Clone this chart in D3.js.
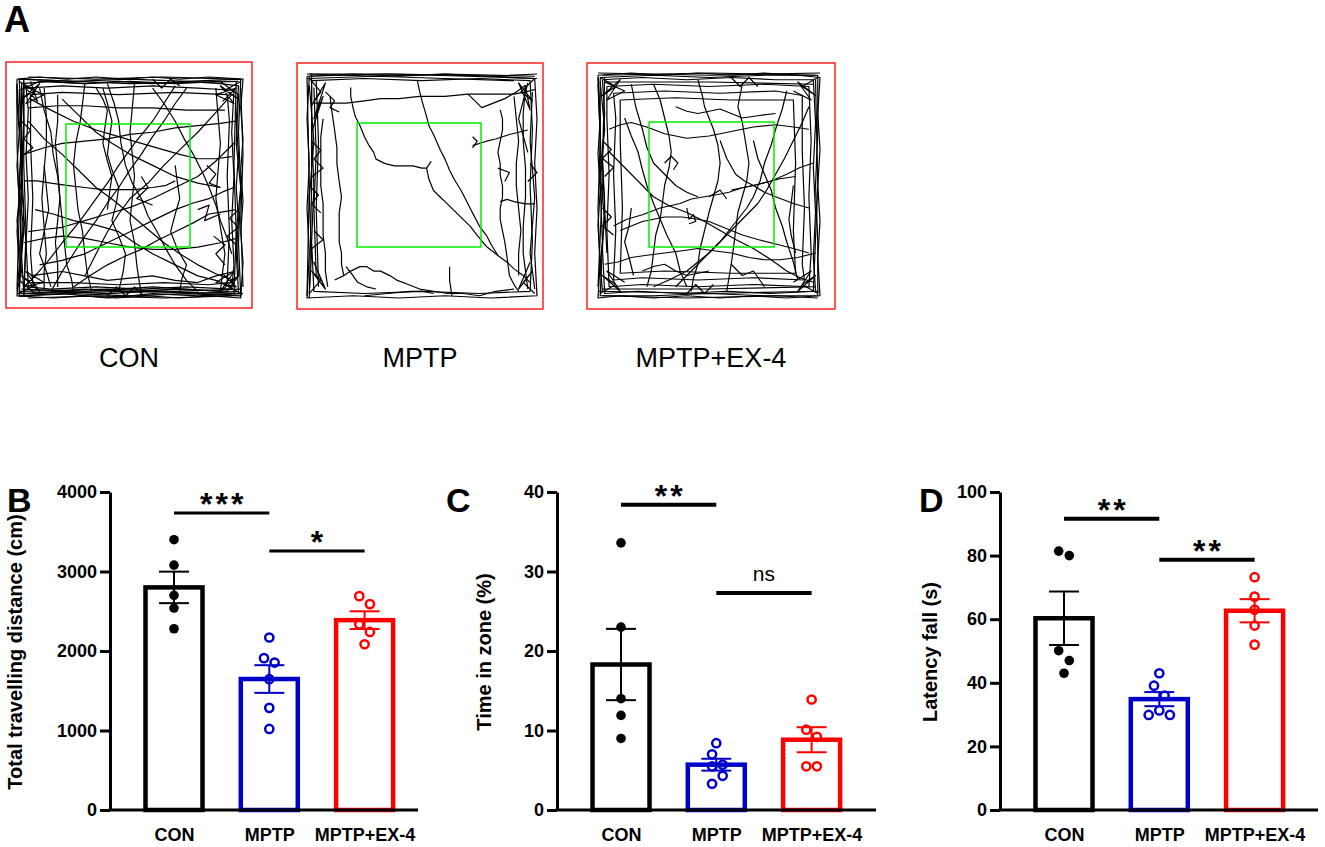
<!DOCTYPE html>
<html><head><meta charset="utf-8">
<script src="https://cdn.jsdelivr.net/npm/d3@7"></script>
<style>body{margin:0;background:#fff} svg{display:block} text{font-family:"Liberation Sans",Arial,sans-serif}</style>
</head><body><svg id="c" width="1325" height="847"></svg>
<script>
// ---------------- DATA ----------------
const groups = ["CON", "MPTP", "MPTP+EX-4"];
const groupColors = ["#000000", "#0000c8", "#ff0000"];

// Panel B: total travelling distance (cm)
const distanceValues = [[3400, 3080, 2700, 2540, 2280], [2170, 1910, 1855, 1645, 1285, 1020], [2690, 2590, 2335, 2240, 2085]];
const distanceTicks = [0, 1000, 2000, 3000, 4000];
const distanceComparisons = [[0, 1, "***", 3735], [1, 2, "*", 3257]];

// Panel C: time in zone (%)
const zoneValues = [[33.6, 23.0, 14.0, 11.9, 9.0], [8.4, 7.0, 5.7, 5.5, 4.3, 3.3], [13.9, 10.1, 9.2, 5.5, 5.5]];
const zoneTicks = [0, 10, 20, 30, 40];
const zoneComparisons = [[0, 1, "**", 38.4], [1, 2, "ns", 27.3]];

// Panel D: latency fall (s)
const latencyValues = [[81.4, 80.0, 50.1, 47.0, 43.0], [43.0, 39.1, 36.0, 31.3, 29.9, 29.9], [73.2, 67.1, 63.0, 58.0, 52.0]];
const latencyTicks = [0, 20, 40, 60, 80, 100];
const latencyComparisons = [[0, 1, "**", 91.6], [1, 2, "**", 78.7]];

// Panel A: open-field tracks (arena coordinates 0-100)
const tracksCON = [
"0,1 10,0 22,1 35,0 48,1 60,0 72,1 85,0 100,1 99,14 100,28 99,42 100,56 99,70 100,84 99,100 86,99 72,100 58,99 44,100 30,99 16,100 0,99 1,85 0,70 1,55 0,40 1,25 0,12 0,1",
"2,3 15,2 30,3 45,2 60,3 75,2 90,3 98,4 97,20 98,35 97,50 98,65 97,80 98,97 80,98 60,97 40,98 20,97 3,98 2,80 3,60 2,40 3,20 2,3",
"4,5 20,4 40,5 60,4 80,5 96,6 95,25 96,45 95,65 96,85 95,96 75,95 55,96 35,95 15,96 5,95 4,75 5,55 4,35 5,15 4,5",
"1,6 2,30 1,50 3,70 1,92 8,98 30,96 50,97 70,96 93,97 98,90 97,70 99,50 97,30 98,8 90,2 70,3 50,2 30,3 10,2 1,6",
"6,8 6,30 7,55 6,80 7,93 25,93 45,94 65,93 85,94 93,93 94,70 93,45 94,20 93,8 70,7 45,8 20,7 6,8",
"1,1 25,2 50,1 75,2 99,1 98,25 99,50 98,75 99,99 75,98 50,99 25,98 1,99 2,75 1,50 2,25 1,1",
"0,4 0,30 1,60 0,96", "5,0 35,1 65,0 95,1", "99,5 100,35 99,65 100,95", "5,100 35,99 65,100 95,99",
"3,1 3,40 4,70 3,99", "1,97 40,96 70,97 99,96", "97,2 96,40 97,70 96,98", "2,1 50,3 98,2", "2,4 2,50 1,98", "0,98 50,97 100,98",
"0,3 1,20 2,45 0,65 2,88 0,97", "3,2 3,25 2,50 4,75 3,99", "1,99 20,98 40,100 60,98 80,99 99,98", "2,96 30,97 60,95 90,97",
"1,2 8,6 2,10 10,3 4,12 12,8 3,4 9,11 6,2", "99,2 92,6 98,10 90,4 96,12 88,8 97,5 91,11",
"1,98 8,94 2,90 10,97 4,88 12,93 3,95 9,89", "99,98 92,94 98,90 90,97 96,88 88,93 97,95 91,89",
"2,20 6,24 3,28 7,32 2,36", "98,60 94,64 98,68 93,72 97,76", "40,99 44,95 48,99 52,95 56,99", "60,1 64,5 68,1 72,4",
"5,14 18,13 30,13 45,14 60,14 75,15 92,15", "3,47 9,47 15,48 22,49 30,50 38,51 45,51 52,51 60,50 66,49 70,47",
"6,10 15,15 25,20 35,24 45,27 55,30 65,33 72,35 80,37 88,37 95,36",
"10,5 12,15 15,25 16,35 18,45 19,55 20,65 21,75 22,85 24,91 25,97", "30,3 29,12 28,20 26,30 25,40 26,50 27,60 29,70 30,80 31,88 33,97",
"52,3 51,14 50,25 51,35 52,45 51,55 50,65 52,75 53,85 54,92 55,98",
"70,4 65,12 60,20 52,30 45,40 40,48 35,55 28,65 20,75 14,83 8,90", "95,8 88,16 80,25 72,33 65,40 58,48 50,55 45,62 40,70 35,80 30,90",
"5,20 12,28 20,35 28,43 35,50 43,56 50,62 58,69 65,75 72,80 80,85 88,89 96,92",
"8,60 16,62 25,65 35,67 45,70 52,75 60,80 70,85 80,90 88,92 95,95", "40,3 43,12 45,20 46,30 48,40 51,48 55,55 58,63 62,70 66,78 70,85 75,92 80,97",
"96,50 91,52 85,55 78,57 70,60 60,65 50,70 40,75 30,80 20,83 10,85",
"60,5 65,12 70,20 74,28 78,35 82,43 85,50 88,58 90,65 93,73 95,80", "3,35 12,32 20,30 30,29 40,28 50,26 60,25 70,23 80,22 90,21 97,20",
"15,97 20,88 25,80 30,72 35,65 40,57 45,50 50,42 55,35 60,27 65,20 70,12 75,5",
"3,75 12,73 20,72 30,73 40,75 50,77 60,78 70,78 80,77 90,75 97,73", "35,5 38,10 40,15 39,22 38,30 40,38 42,45 41,52 40,60",
"88,5 89,18 90,30 89,42 88,55 90,68 92,80 91,88 90,97",
"6,90 13,89 20,88 30,90 40,92 50,91 60,90 70,92 80,93 88,90 96,88", "70,40 71,48 72,55 70,62 68,70 71,78 75,85 73,91 72,97",
"20,10 27,17 35,25 42,30 50,35 60,40 70,45 80,48 90,50",
"12,40 13,50 14,60 12,70 10,80 13,88 15,95", "45,97 47,88 48,80 45,72 42,65 44,57 45,50 42,42 40,35 41,27 42,20 40,12 38,5",
"96,30 88,38 80,45 70,50 60,55 50,59 40,62 30,65 20,68 12,69 5,70",
"25,95 32,90 40,85 48,81 55,78 62,74 70,70 78,66 85,62 91,61 97,60", "55,45 58,50 53,55 60,58", "80,60 85,58 83,65 90,62",
"12,5 13,18 13,30 12,42 11,55 12,68 13,80 12,88 12,96", "18,8 18,20 17,30 18,42 19,55 18,65 17,75 18,85 18,95", "84,40 88,44 85,48 90,50",
"92,85 88,80 92,76 87,72"
];
const tracksMPTP = [
"1,1 20,0 40,1 60,0 80,1 99,2 100,20 99,40 100,60 99,80 100,99 80,100 60,99 40,100 20,99 0,100 1,80 0,60 1,40 0,20 1,1",
"2,3 25,2 50,3 75,2 97,3 98,25 97,50 98,75 97,97 75,98 50,97 25,98 3,97 2,75 3,50 2,25 2,3",
"0,2 30,1 60,2 90,3", "1,0 30,1 60,0 99,1", "0,1 35,0 70,1 100,2", "1,5 3,30 1,55 2,80 1,98", "3,6 4,35 3,60 4,90",
"0,0 40,0 80,1 100,0", "0,1 1,50 0,99", "2,0 2,50 1,100", "4,3 5,30 4,60 5,95",
"1,2 6,8 2,14 8,4 3,20 7,10 2,26 5,16", "1,98 6,92 2,88 8,96 3,84 7,94", "2,30 6,34 3,38 7,42 2,46",
"1,50 5,54 2,58 6,62", "3,70 7,74 2,78",
"99,2 93,8 98,12 92,4 97,16 95,6", "99,98 94,93 98,88 92,96 97,84", "97,40 100,44 96,48",
"3,13 10,13 17,13 25,12 32,11 40,11 49,10 60,10 70,9 80,9 90,9 95,8 99,7",
"19,6 19,10 20,15 21,19 23,23 25,28 27,32 29,35 30,38 34,40 38,41 42,41 46,41 50,42 52,42 54,39",
"52,42 53,47 55,52 58,55 60,57 64,61 68,65 71,68 74,72 78,77 83,81 87,84 90,87 94,90 97,93",
"48,3 49,8 50,12 52,19 53,23 55,27 58,34 60,38 62,43 64,47 67,52 69,56 71,60 73,64 75,68 78,72 80,76 83,81",
"70,9 73,12 76,15 81,13 86,11 91,8 95,5", "72,32 78,30 82,29 88,27 96,25",
"84,16 85,20 85,25 84,30 83,35 84,40 84,45 85,50 85,55 84,60 84,65 85,70 86,75 87,82 88,90 90,94 92,97",
"90,10 91,20 92,30 91,40 91,50 92,60 93,70 92,80 92,90", "95,5 94,18 94,30 95,42 95,55 94,68 94,80 95,88 96,96",
"12,92 16,90 19,88 23,86 26,86 29,88 32,88 36,90 39,92 44,94 49,96 55,97 61,98 68,98 75,99 82,97 90,96",
"10,10 11,18 12,25 13,33 13,40 14,48 15,55 14,62 14,70 14,75 15,80 15,85 16,90", "7,20 6,28 6,35 6,42 6,50 7,58 7,65 7,72 8,80 8,88 9,95",
"62,86 62,92 63,99", "17,86 20,90 22,93 26,95 30,96", "84,57 87,56 90,57 95,58 99,58", "83,42 88,44 86,48", "72,33 74,30 72,28",
"8,8 12,12 10,15 14,17", "25,99 35,98 45,97 50,97 55,98", "98,8 97,30 99,55 97,80 99,96", "96,4 92,20 96,35"
];
const tracksEX4 = [
"0,1 15,0 30,1 45,0 60,1 75,0 90,1 100,2 99,18 100,34 99,50 100,66 99,82 100,99 85,100 70,99 55,100 40,99 25,100 10,99 0,100 1,84 0,68 1,52 0,36 1,20 0,1",
"2,3 20,2 40,3 60,2 80,3 97,3 98,22 97,42 98,62 97,82 98,97 78,98 58,97 38,98 18,97 3,98 2,78 3,58 2,38 3,18 2,3",
"4,6 25,5 50,6 75,5 95,6 96,30 95,55 96,80 95,95 70,94 45,95 20,94 5,95 4,70 5,45 4,20 4,6",
"1,2 25,1 50,2 75,1 99,1 99,25 98,50 99,75 99,99 75,99 50,98 25,99 1,99 2,75 1,50 1,25 1,2",
"1,4 3,25 1,45 3,65 1,85 2,97", "3,2 2,40 4,80", "0,2 1,30 0,60 1,90", "2,99 40,100 80,99 99,100",
"0,0 50,1 100,0", "2,1 50,0 98,1", "3,4 50,4 97,5", "0,97 50,98 100,97", "2,96 50,96 98,95", "98,3 99,50 97,97", "0,5 2,50 0,95",
"7,9 30,8 55,9 80,8 92,10 92,35 93,60 92,85 93,92 70,91 45,92 20,91 7,92 8,70 7,45 8,20 7,9",
"10,12 35,11 60,12 88,12 89,40 88,70 89,89 60,89 30,88 10,89 11,60 10,30 10,12",
"1,2 8,6 2,10 10,3 4,12 12,8 3,4", "99,2 92,6 98,10 90,4 96,12 88,8", "1,98 8,94 2,90 10,97 4,88 12,93", "99,98 92,94 98,90 90,97 96,88 88,93",
"2,30 6,34 2,38 7,42 3,46", "2,60 6,64 2,68 7,72", "60,2 64,6 68,2 72,6", "40,98 44,94 48,98 52,94",
"5,25 10,23 15,22 22,24 30,27 35,28 40,29 50,28 60,26 70,24 80,23 88,24 95,25",
"7,68 13,65 20,63 28,60 37,58 42,56 48,55 54,54 59,53 65,51 70,50 74,49 82,47 89,46",
"10,70 15,68 20,66 25,65 30,64 38,64 45,65 50,66 55,68 60,70 65,72 72,74 80,76 88,78 95,80",
"12,20 15,28 18,35 20,43 22,50 25,58 28,65 31,72 35,80 37,88 40,95",
"25,5 28,12 30,20 32,28 33,35 32,42 30,50 29,58 28,65 26,72 25,80 24,88 22,95",
"45,3 47,10 48,15 50,20 52,25 54,32 55,40 54,48 52,55 50,62 48,70 46,78 45,85 43,91 42,97",
"65,5 64,10 63,15 65,22 66,28 67,34 68,40 67,48 65,55 63,62 62,70 61,78 60,85 59,91 58,97",
"85,8 83,16 80,25 78,32 75,40 73,48 70,55 67,60 63,65 59,70 55,75 50,80 45,85 40,90 35,95",
"95,15 92,22 88,30 84,38 80,45 76,52 72,58 66,64 60,70 55,75 50,80 45,84 40,88 32,92 25,95",
"5,35 10,40 15,45 20,50 25,55 32,59 40,62 48,66 55,70 62,74 70,78 78,83 85,88 91,91 97,93",
"3,85 9,84 15,82 22,81 30,80 38,79 45,78 52,79 60,80 68,82 75,83 82,83 90,82 98,80",
"15,5 17,15 20,25 22,33 25,40 30,45 35,50 40,53 45,55", "70,30 72,38 75,45 78,52 80,60 83,68 85,75 88,84 90,92",
"40,60 41,65 43,63 44,66 41,67", "30,40 33,37 36,40 34,43", "50,55 55,52 58,56", "60,85 65,90 70,88 75,95",
"20,88 25,86 30,85 35,88 40,90 45,89 50,88", "97,40 91,42 85,45 78,48 70,50 65,51 60,52",
"35,15 40,17 45,18 50,17 55,16 60,18 65,20 72,19 80,18", "15,60 14,68 12,75 14,82 16,90",
"88,50 87,58 86,65 87,72 89,80", "55,30 58,38 62,45 66,48 70,50 75,53 80,55 88,58 95,60"
];
const arenaLabels = ["CON", "MPTP", "MPTP+EX-4"];

// ---------------- DRAW ----------------
const svg = d3.select("#c");
const FONT = '"Liberation Sans",Arial,sans-serif';

// Panel A
svg.append("text").attr("x", 4).attr("y", 32).attr("font-size", 36).attr("font-weight", "bold").text("A");
const arenas = [
  {tracks: tracksCON, red: [6, 62, 252, 308], green: [66, 124, 190, 247], area: [17, 77, 243, 298], lx: 129},
  {tracks: tracksMPTP, red: [297, 63, 543, 309], green: [357, 123, 481, 247], area: [307, 74, 537, 298], lx: 420},
  {tracks: tracksEX4, red: [587, 63, 835, 309], green: [649, 122, 774, 247], area: [598, 73, 820, 298], lx: 711}
];
arenas.forEach((a, i) => {
  const g = svg.append("g");
  g.append("rect").attr("x", a.red[0]).attr("y", a.red[1]).attr("width", a.red[2] - a.red[0]).attr("height", a.red[3] - a.red[1])
    .attr("fill", "none").attr("stroke", "#ff2020").attr("stroke-width", 1.5);
  const sx = d3.scaleLinear([0, 100], [a.area[0], a.area[2]]);
  const sy = d3.scaleLinear([0, 100], [a.area[1], a.area[3]]);
  const line = d3.line().x(p => sx(p[0])).y(p => sy(p[1]));
  g.selectAll("path.t").data(a.tracks.map(s => s.split(" ").map(q => q.split(",").map(Number))))
    .join("path").attr("class", "t").attr("d", line).attr("fill", "none").attr("stroke", "#000")
    .attr("stroke-width", 1.2).attr("stroke-linejoin", "round");
  g.append("rect").attr("x", a.green[0]).attr("y", a.green[1]).attr("width", a.green[2] - a.green[0]).attr("height", a.green[3] - a.green[1])
    .attr("fill", "none").attr("stroke", "#00ee00").attr("stroke-width", 1.5);
  g.append("text").attr("x", a.lx).attr("y", 367).attr("text-anchor", "middle").attr("font-size", 27).text(arenaLabels[i]);
});

// Beeswarm placement computed from the pixel positions
function swarm(vals, y, step = 10.6, minD = 10.5) {
  const order = d3.range(vals.length).sort((a, b) => y(vals[a]) - y(vals[b]));
  const off = new Array(vals.length).fill(0);
  const placed = [];
  const cands = [0, step, -step, 2 * step, -2 * step, 3 * step, -3 * step];
  order.forEach(i => {
    const yi = y(vals[i]);
    for (const c of cands) {
      if (placed.every(j => Math.hypot(off[j] - c, y(vals[j]) - yi) >= minD)) { off[i] = c; break; }
    }
    placed.push(i);
  });
  let cluster = [order[0]];
  const flush = () => { const m = d3.mean(cluster, k => off[k]); cluster.forEach(k => off[k] -= m); };
  for (let k = 1; k < order.length; k++) {
    if (y(vals[order[k]]) - y(vals[order[k - 1]]) < minD) cluster.push(order[k]);
    else { flush(); cluster = [order[k]]; }
  }
  flush();
  return off;
}

function barPanel(cfg) {
  const g = svg.append("g");
  const y = d3.scaleLinear([0, d3.max(cfg.ticks)], [810, 492]);
  const x = d3.scalePoint(groups, [cfg.axisX + 64, cfg.axisX + 64 + 190.6]);
  const bw = 57;
  g.append("text").attr("x", cfg.letterX).attr("y", 512).attr("font-size", 34).attr("font-weight", "bold").text(cfg.letter);

  cfg.values.forEach((vals, i) => {
    const col = groupColors[i];
    const cx = x(groups[i]);
    const m = d3.mean(vals), sem = d3.deviation(vals) / Math.sqrt(vals.length);
    g.append("rect").attr("x", cx - bw / 2).attr("y", y(m)).attr("width", bw).attr("height", y(0) - y(m))
      .attr("fill", "none").attr("stroke", col).attr("stroke-width", 4.5);
    const off = swarm(vals, y);
    g.selectAll(null).data(vals).join("circle")
      .attr("cx", (d, k) => cx + off[k]).attr("cy", d => y(d))
      .attr("r", i === 0 ? 4.8 : 4.1)
      .attr("fill", i === 0 ? "#000" : "none")
      .attr("stroke", i === 0 ? "none" : col).attr("stroke-width", 2.5);
    g.append("line").attr("x1", cx).attr("x2", cx).attr("y1", y(m - sem)).attr("y2", y(m + sem)).attr("stroke", col).attr("stroke-width", 2);
    [m - sem, m + sem].forEach(v => g.append("line").attr("x1", cx - 15).attr("x2", cx + 15).attr("y1", y(v)).attr("y2", y(v))
      .attr("stroke", col).attr("stroke-width", 2));
  });

  // y axis
  const ya = g.append("g").attr("transform", `translate(${cfg.axisX},0)`)
    .call(d3.axisLeft(y).tickValues(cfg.ticks).tickFormat(d3.format("d")).tickSize(10).tickSizeOuter(0).tickPadding(3));
  ya.select(".domain").attr("stroke-width", 3).attr("stroke", "#000");
  ya.selectAll(".tick line").attr("stroke-width", 3).attr("stroke", "#000");
  ya.selectAll(".tick text").attr("font-size", 18).attr("font-weight", "bold").attr("font-family", FONT).attr("fill", "#000");
  // x axis
  g.append("line").attr("x1", cfg.axisX - 1.5).attr("x2", cfg.axisEnd).attr("y1", 810).attr("y2", 810).attr("stroke", "#000").attr("stroke-width", 3);
  const xa = g.append("g").attr("transform", "translate(0,810)").call(d3.axisBottom(x).tickSize(0).tickPadding(18));
  xa.select(".domain").remove();
  xa.selectAll(".tick text").attr("font-size", 18).attr("font-weight", "bold").attr("font-family", FONT).attr("fill", "#000");

  // y label
  g.append("text").attr("transform", `translate(${cfg.labelX},652) rotate(-90)`).attr("text-anchor", "middle")
    .attr("font-size", 20).attr("font-weight", "bold").text(cfg.label);

  // comparisons
  cfg.comps.forEach(([a, b, txt, lvl]) => {
    const yy = y(lvl);
    g.append("line").attr("x1", x(groups[a])).attr("x2", x(groups[b])).attr("y1", yy).attr("y2", yy)
      .attr("stroke", "#000").attr("stroke-width", cfg.sigW);
    const mid = (x(groups[a]) + x(groups[b])) / 2;
    if (txt === "ns") {
      g.append("text").attr("x", mid).attr("y", yy - 11.5).attr("text-anchor", "middle").attr("font-size", 21).text(txt);
    } else {
      g.append("text").attr("x", mid).attr("dx", 1.5).attr("y", yy + 2).attr("text-anchor", "middle")
        .attr("font-size", 32).attr("font-weight", "bold").attr("letter-spacing", 3).text(txt);
    }
  });
}

barPanel({letter: "B", letterX: 7, axisX: 110, axisEnd: 418, values: distanceValues, ticks: distanceTicks, comps: distanceComparisons,
  label: "Total travelling distance (cm)", labelX: 22, sigW: 3});
barPanel({letter: "C", letterX: 446, axisX: 557, axisEnd: 876, values: zoneValues, ticks: zoneTicks, comps: zoneComparisons,
  label: "Time in zone (%)", labelX: 490.5, sigW: 4});
barPanel({letter: "D", letterX: 919, axisX: 1000, axisEnd: 1318, values: latencyValues, ticks: latencyTicks, comps: latencyComparisons,
  label: "Latency fall (s)", labelX: 937, sigW: 4});
</script></body></html>
